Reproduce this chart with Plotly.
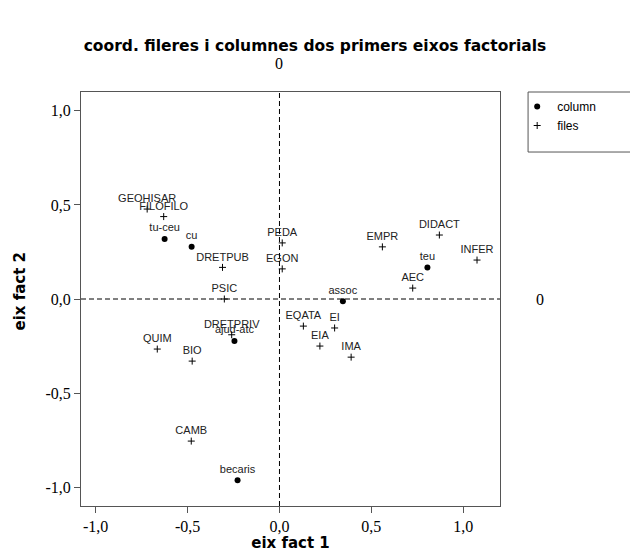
import plotly.graph_objects as go

# Column points (dots)
col_labels = ["tu-ceu", "cu", "teu", "assoc", "ajud-atc", "becaris"]
col_x = [-0.625, -0.478, 0.805, 0.345, -0.245, -0.228]
col_y = [0.319, 0.277, 0.168, -0.012, -0.223, -0.963]

# Row points (plus)
row_labels = ["GEOHISAR", "FILOFILO", "DRETPUB", "PSIC", "PEDA", "EGON", "EMPR",
              "DIDACT", "INFER", "AEC", "EQATA", "EI", "EIA", "IMA", "DRETPRIV",
              "QUIM", "BIO", "CAMB"]
row_x = [-0.72, -0.63, -0.31, -0.30, 0.015, 0.015, 0.56,
         0.87, 1.075, 0.725, 0.13, 0.30, 0.22, 0.39, -0.26,
         -0.665, -0.475, -0.48]
row_y = [0.478, 0.438, 0.168, 0.0, 0.298, 0.16, 0.277,
         0.34, 0.207, 0.058, -0.144, -0.154, -0.25, -0.309, -0.19,
         -0.266, -0.33, -0.755]

tick_vals = [-1.0, -0.5, 0.0, 0.5, 1.0]
tick_text = ["-1,0", "-0,5", "0,0", "0,5", "1,0"]

label_font = dict(family="Liberation Sans, Arial, sans-serif", size=11, color="#222")
bold_font = "DejaVu Sans, Verdana, sans-serif"
serif = "Liberation Serif, Times New Roman, serif"

fig = go.Figure()
fig.add_trace(go.Scatter(
    x=col_x, y=col_y, mode="markers+text", name="column",
    text=col_labels, textposition="top center", textfont=label_font,
    marker=dict(symbol="circle", size=6, color="black"),
))
fig.add_trace(go.Scatter(
    x=row_x, y=row_y, mode="markers+text", name="files",
    text=row_labels, textposition="top center", textfont=label_font,
    marker=dict(symbol="cross-thin", size=5, color="black",
                line=dict(width=1, color="black")),
))

fig.add_shape(type="line", xref="x", yref="paper", x0=0, x1=0, y0=0, y1=1,
              line=dict(color="black", width=1, dash="5px,3px"))
fig.add_shape(type="line", xref="paper", yref="y", x0=0, x1=1, y0=0, y1=0,
              line=dict(color="black", width=1, dash="5px,3px"))
# legend frame extending past the right edge
fig.add_shape(type="rect", xref="paper", yref="paper",
              x0=1.067, x1=1.35, y0=0.855, y1=1.0,
              line=dict(color="#555", width=1))

fig.add_annotation(x=0, y=1, xref="x", yref="paper", text="0", showarrow=False,
                   yanchor="bottom", yshift=18, font=dict(family=serif, size=16, color="black"))
fig.add_annotation(x=1, y=0, xref="paper", yref="y", text="0", showarrow=False,
                   xanchor="left", xshift=34, font=dict(family=serif, size=16, color="black"))
# y axis title
fig.add_annotation(x=-0.146, y=0.52, xref="paper", yref="paper", text="<b>eix fact 2</b>",
                   showarrow=False, textangle=-90, xanchor="center", yanchor="middle",
                   font=dict(family=bold_font, size=15, color="black"))

axis_common = dict(
    showgrid=False, zeroline=False, showline=True, linecolor="#555", linewidth=1,
    mirror=True, ticks="outside", ticklen=6, tickcolor="#555",
    tickvals=tick_vals, ticktext=tick_text, automargin=False,
    tickfont=dict(family=serif, size=16, color="black"),
)

fig.update_layout(
    width=630, height=552,
    margin=dict(l=81, r=130, t=92, b=46),
    paper_bgcolor="white", plot_bgcolor="white",
    title=dict(text="<b>coord. fileres i columnes dos primers eixos factorials</b>",
               x=0.5, xanchor="center", y=0.917, yanchor="middle",
               font=dict(family=bold_font, size=15.5, color="black")),
    xaxis=dict(range=[-1.08, 1.2], title=dict(text="<b>eix fact 1</b>", standoff=2,
               font=dict(family=bold_font, size=15, color="black")),
               **axis_common),
    yaxis=dict(range=[-1.1, 1.1], **axis_common),
    legend=dict(x=1.041, y=1.0, xanchor="left", yanchor="top",
                bgcolor="rgba(0,0,0,0)", borderwidth=0,
                font=dict(family="Liberation Sans, Arial, sans-serif", size=12, color="black"),
                itemwidth=30, tracegroupgap=0),
    showlegend=True,
)

fig.write_html("out.html", config={"displayModeBar": False},
               post_script="document.body.style.margin='0px';")
